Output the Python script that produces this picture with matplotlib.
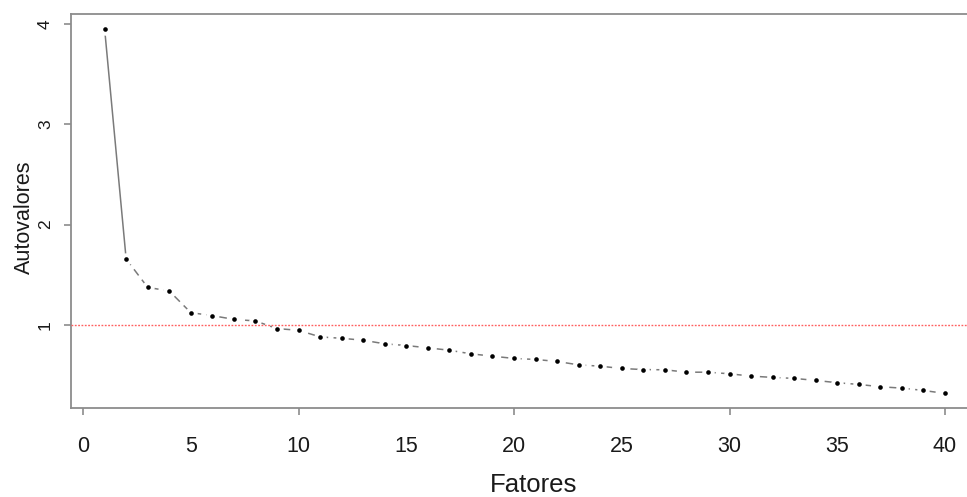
import numpy as np
import matplotlib.pyplot as plt
from matplotlib.ticker import FixedLocator

fatores = np.arange(1, 41)
autovalores = [3.954, 1.656, 1.373, 1.337, 1.121, 1.091, 1.054, 1.038, 0.962, 0.945,
               0.879, 0.865, 0.846, 0.810, 0.793, 0.770, 0.746, 0.710, 0.687, 0.664,
               0.654, 0.634, 0.600, 0.587, 0.564, 0.553, 0.551, 0.527, 0.527, 0.511,
               0.488, 0.475, 0.465, 0.445, 0.422, 0.405, 0.382, 0.368, 0.345, 0.315]
soglia = 1
xticks_lab = np.arange(0, 41, 5)
xticks_seg = np.arange(0, 41, 10)
yticks = [1, 2, 3, 4]

plt.rcParams['font.family'] = ['Liberation Sans', 'DejaVu Sans']
testo = '#1a1a1a'
grigio = '#8c8c8c'

fig = plt.figure(figsize=(9.67, 4.97), dpi=100)
ax = fig.add_axes([0.0734, 0.1791, 0.9386, 0.7928])

y = np.array(autovalores)
# primo tratto continuo, poi tratteggiato (stile type="b" di R)
ax.plot(fatores[:2], y[:2], color='#7a7a7a', lw=1.1, zorder=1)
ax.plot(fatores[1:], y[1:], color='#7a7a7a', lw=1.1, dashes=(5, 3.5), zorder=1)
ax.scatter(fatores, y, s=80, color='white', zorder=2, linewidths=0)
ax.scatter(fatores, y, s=11, color='black', zorder=3, linewidths=0)
ax.axhline(soglia, color='#ff6060', lw=1, dashes=(1.3, 1.1), zorder=4)

ax.set_xlim(-0.56, 41.56)
ax.set_ylim(0.17, 4.10)

for s in ax.spines.values():
    s.set_color(grigio)
    s.set_linewidth(1.3)

# etichette ogni 5, trattini solo ogni 10
ax.xaxis.set_major_locator(FixedLocator(xticks_lab))
ax.xaxis.set_minor_locator(FixedLocator(xticks_seg))
ax.xaxis.remove_overlapping_locs = False
ax.tick_params(axis='x', which='major', length=0, pad=20, labelsize=15.5, labelcolor=testo)
ax.tick_params(axis='x', which='minor', length=5, width=1.2, color=grigio)

ax.set_yticks(yticks)
ax.tick_params(axis='y', length=5, width=1.2, color=grigio, pad=8, labelsize=12.5, labelcolor=testo)
for t in ax.get_yticklabels():
    t.set_rotation(90)
    t.set_va('center')

ax.set_xlabel('Fatores', fontsize=18.5, color=testo)
ax.xaxis.set_label_coords(0.51, -0.165)
ax.set_ylabel('Autovalores', fontsize=15.5, color=testo)
ax.yaxis.set_label_coords(-0.040, 0.485)

fig.savefig('out.png', dpi=100)
